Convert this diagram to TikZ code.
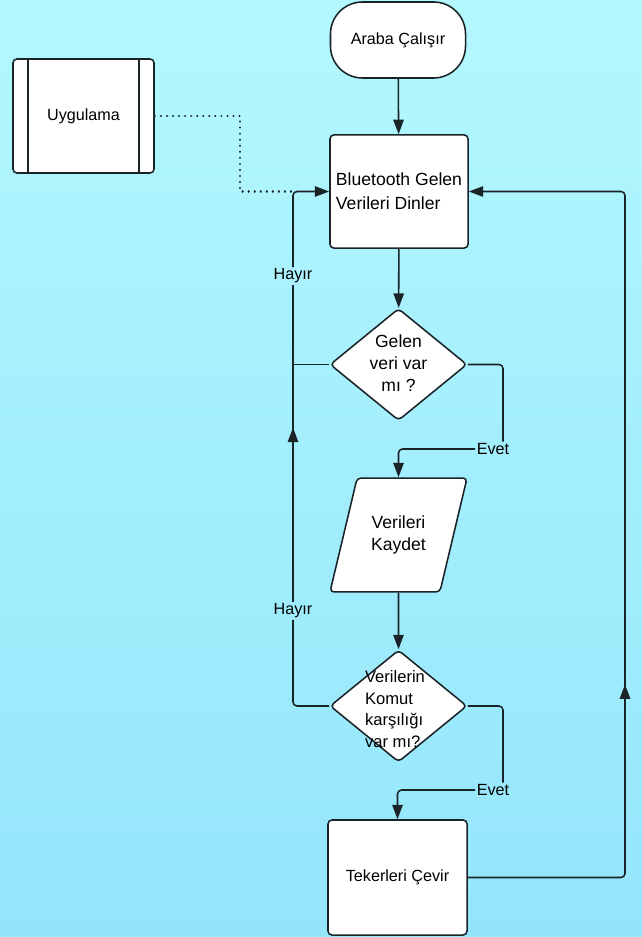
\documentclass[tikz,border=0pt]{standalone}
\usepackage{fontspec}
\setmainfont{Liberation Sans}
\usetikzlibrary{arrows.meta,shapes.geometric,decorations.markings,calc}
\definecolor{skytop}{HTML}{B3F8FD}
\definecolor{skybottom}{HTML}{94E5FC}
\definecolor{inkline}{HTML}{1A2428}
\tikzset{
  box/.style={draw=inkline,line width=1.1pt,fill=white,rounded corners=1mm,minimum width=3.45cm,minimum height=2.83cm,inner sep=0pt,align=center,font=\fontsize{11.5}{15}\selectfont},
  startbox/.style={box,rounded corners=0.8cm,minimum width=3.375cm,minimum height=1.9cm},
  procbox/.style={box,minimum width=3.525cm,minimum height=2.85cm,
    path picture={\draw[inkline,line width=1.1pt] ([xshift=0.375cm]path picture bounding box.north west) -- ([xshift=0.375cm]path picture bounding box.south west);
                  \draw[inkline,line width=1.1pt] ([xshift=-0.375cm]path picture bounding box.north east) -- ([xshift=-0.375cm]path picture bounding box.south east);}},
  decision/.style={diamond,draw=inkline,line width=1.1pt,fill=white,rounded corners=1mm,minimum width=3.425cm,minimum height=2.8cm,inner sep=0pt},
  iobox/.style={trapezium,trapezium left angle=76.6,trapezium right angle=103.4,trapezium stretches body=true,draw=inkline,line width=1.1pt,fill=white,rounded corners=1mm,minimum width=3.425cm,inner xsep=0pt,inner ysep=0.945cm,align=center,font=\fontsize{12.5}{15.6}\selectfont},
  txt/.style={inner sep=0pt,align=center,font=\fontsize{12.5}{15.6}\selectfont},
  lbl/.style={inner sep=1pt,font=\fontsize{11.5}{13}\selectfont},
  flow/.style={-{Triangle[length=3.6mm,width=2.6mm]},line width=1.1pt,draw=inkline,rounded corners=1mm},
  wire/.style={line width=1.1pt,draw=inkline,rounded corners=1mm},
  link/.style={line width=1.5pt,draw=inkline,dash pattern=on 0.1pt off 4.2pt,line cap=round},
  midarrow/.style={postaction={decorate},decoration={markings,mark=at position #1 with {\arrow{Triangle[length=3.6mm,width=2.6mm]}}}}
}
\begin{document}
\begin{tikzpicture}[x=0.025cm,y=-0.025cm]
  \shade[top color=skytop,bottom color=skybottom] (0,0) rectangle (642,937);
  \useasboundingbox (0,0) rectangle (642,937);
  % shapes
  \node[startbox] (start) at (398,40) {Araba Çalışır};
  \node[procbox] (uyg) at (83.5,116) {Uygulama};
  \node[box,align=left,font=\fontsize{12.5}{17}\selectfont] (bt) at (399,191.5) {Bluetooth Gelen\\Verileri Dinler};
  \node[decision] (d1) at (398.5,364.5) {};
  \node[txt] (d1t) at (398.5,363) {Gelen\\veri var\\mı ?};
  \node[iobox] (para) at (398.5,535) {Verileri\\Kaydet};
  \node[decision] (d2) at (398.5,706) {};
  \node[txt,align=left,font=\fontsize{11.8}{15.5}\selectfont] (d2t) at (395,709) {Verilerin\\Komut\\karşılığı\\var mı?};
  \node[box,minimum width=3.475cm,minimum height=2.875cm] (tek) at (397.5,877.5) {Tekerleri Çevir};
  % labels
  \node[lbl] (hayir1) at (293,276) {Hayır};
  \node[lbl] (hayir2) at (293,611) {Hayır};
  \node[lbl] (evet1) at (493,449) {Evet};
  \node[lbl] (evet2) at (493,790) {Evet};
  \coordinate (y1) at (503,364.5);
  \coordinate (y2) at (503,706);
  \coordinate (rt) at (625,877.5);
  \coordinate (dj) at (240,116);
  % connectors
  \draw[flow] (start) -- (bt);
  \draw[flow] (bt) -- (d1);
  \draw[wire] (d1.east) -- (y1) -- (y1 |- evet1.north);
  \draw[flow] (evet1.west) -| (para.north);
  \draw[flow] (para) -- (d2);
  \draw[wire] (d2.east) -- (y2) -- (y2 |- evet2.north);
  \draw[flow] (evet2.west) -| (tek.north);
  \draw[wire] (d2.west) -| (hayir2.south);
  \draw[wire,midarrow=0.55] (hayir2.north) -- (hayir1.south);
  \draw[wire] (d1.west) -- (d1.west -| hayir1);
  \draw[flow] (hayir1.north) |- (bt.west);
  \draw[flow,midarrow=0.35] (tek.east) -- (rt) |- (bt.east);
  \draw[link] (uyg.east) -- (dj) |- (hayir1.north |- bt.west);
\end{tikzpicture}
\end{document}
